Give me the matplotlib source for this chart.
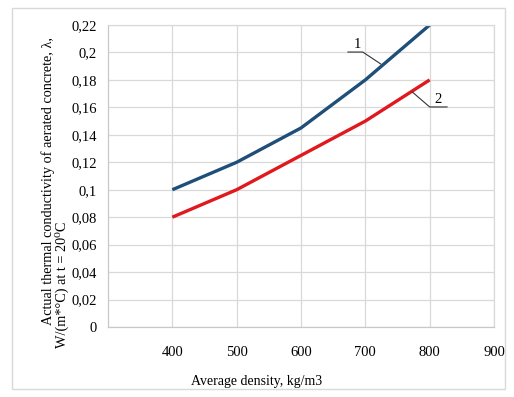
import matplotlib.pyplot as plt
from matplotlib.patches import Rectangle

density = [400, 500, 600, 700, 800]
curve1 = [0.10, 0.12, 0.145, 0.18, 0.22]
curve2 = [0.08, 0.10, 0.125, 0.15, 0.18]
x_ticks = [400, 500, 600, 700, 800, 900]
y_ticks = [0, 0.02, 0.04, 0.06, 0.08, 0.10, 0.12, 0.14, 0.16, 0.18, 0.20, 0.22]
y_labels = ["0", "0,02", "0,04", "0,06", "0,08", "0,1", "0,12", "0,14", "0,16", "0,18", "0,2", "0,22"]

plt.rcParams['font.family'] = ['Liberation Serif', 'DejaVu Serif']

fig = plt.figure(figsize=(5.14, 3.97), dpi=100)
fig.patches.append(Rectangle((12 / 514, 1 - 389 / 397), 493 / 514, 381 / 397,
                             transform=fig.transFigure, fill=False,
                             edgecolor='#d9d9d9', linewidth=1))
ax = fig.add_axes([108 / 514, 1 - 327 / 397, 386 / 514, 302 / 397])

ax.plot(density, curve1, color='#1f4e79', linewidth=2.4, solid_capstyle='butt')
ax.plot(density, curve2, color='#e0191e', linewidth=2.4, solid_capstyle='butt')

ax.set_xlim(300, 900)
ax.set_ylim(0, 0.22)
ax.set_xticks(x_ticks)
ax.set_yticks(y_ticks)
ax.set_yticklabels(y_labels)
ax.tick_params(axis='x', length=0, pad=14, labelsize=10.5)
ax.tick_params(axis='y', length=0, pad=8, labelsize=10.5)
ax.grid(True, color='#d9d9d9', linewidth=0.9)
ax.set_axisbelow(True)
for s in ax.spines.values():
    s.set_color('#d9d9d9')
    s.set_linewidth(0.9)
ax.spines['left'].set_color('#c8c8c8')
ax.spines['bottom'].set_color('#c8c8c8')

# leader lines for curve numbers
ax.plot([673, 696, 724], [0.2003, 0.2003, 0.1916], color='#333333', linewidth=0.8)
ax.text(687, 0.2013, "1", fontsize=10.5, ha='center', va='bottom')
ax.plot([773, 800, 827], [0.1712, 0.1603, 0.1603], color='#333333', linewidth=0.8)
ax.text(813, 0.1613, "2", fontsize=10.5, ha='center', va='bottom')

fig.text(257 / 514, 1 - 381 / 397, "Average density, kg/m3", fontsize=10,
         ha='center', va='center')
fig.text(48 / 514, 1 - 181 / 397, "Actual thermal conductivity of aerated concrete, \u03bb,",
         fontsize=10.3, rotation=90, ha='center', va='center')
fig.text(62 / 514, 1 - 348 / 397, "W/(m*\u00b0C) at t = 20\u2070C",
         fontsize=10.3, rotation=90, ha='center', va='bottom')

fig.savefig('out.png', dpi=100)
